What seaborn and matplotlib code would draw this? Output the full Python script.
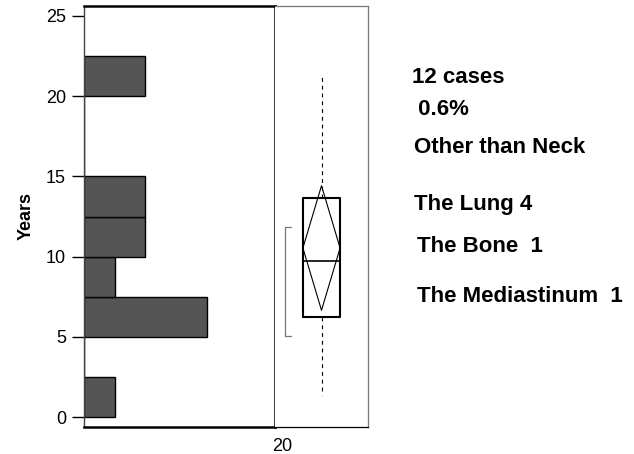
import numpy as np
import matplotlib.pyplot as plt
import seaborn as sns

# survival years of the 12 cases (estimated from the histogram / box plot)
years = [1.37, 5.05, 5.5, 6.5, 7.0, 9.4, 10.06, 11.86, 13.4, 14.5, 20.5, 21.3]
bin_edges = [0, 2.5, 5, 7.5, 10, 12.5, 15, 17.5, 20, 22.5]
y_ticks = [0, 5, 10, 15, 20, 25]
notes = ["12 cases", " 0.6%", "Other than Neck", "The Lung 4", "The Bone  1", "The Mediastinum  1"]

sns.set_style("white", {"text.color": "black", "axes.labelcolor": "black",
                        "xtick.color": "black", "ytick.color": "black"})
plt.rcParams["font.family"] = ["Liberation Sans", "DejaVu Sans"]

fig = plt.figure(figsize=(6.34, 4.54), dpi=100)
ax = fig.add_axes([84 / 634, 1 - 427 / 454, 191 / 634, 421 / 454])
ax2 = fig.add_axes([275 / 634, 1 - 427 / 454, 93 / 634, 421 / 454])

ylim = (-0.62, 25.62)

# histogram, horizontal
sns.histplot(y=years, bins=bin_edges, color="#555555", edgecolor="black",
             linewidth=1, alpha=1, ax=ax)
ax.set_ylim(*ylim)
ax.set_xlim(0, 6.22)
ax.set_yticks(y_ticks)
ax.set_xticks([])
ax.set_xlabel("")
ax.set_ylabel("Years", fontsize=13, fontweight="bold", labelpad=8, color="black")
ax.tick_params(axis="y", direction="out", length=8.5, width=1, pad=4.5,
               labelsize=13, left=True, colors="black")
for name, sp in ax.spines.items():
    sp.set_visible(True)
    sp.set_color("black")
    sp.set_linewidth(1.8)
ax.spines["left"].set_linewidth(1.0)
ax.spines["left"].set_color("#444444")

# box plot with min/max whiskers
sns.boxplot(y=years, ax=ax2, whis=(0, 100), width=0.8, showcaps=False,
            fill=False, color="black", linecolor="black", linewidth=1.5,
            whiskerprops={"linestyle": (0, (3.5, 3.5)), "linewidth": 0.8},
            medianprops={"linewidth": 1.2})
ax2.set_xlim(-1, 1)
ax2.set_ylim(*ylim)

# mean diamond (95% CI of the mean)
arr = np.array(years)
mean = arr.mean()
se = arr.std(ddof=1) / np.sqrt(len(arr))
ci_lo, ci_hi = mean - 2.201 * se, mean + 2.201 * se
ax2.plot([-0.4, 0, 0.4, 0, -0.4], [mean, ci_hi, mean, ci_lo, mean],
         color="black", lw=0.8)

# shortest half bracket (densest n//2 + 1 observations)
s = np.sort(arr)
k = len(s) // 2 + 1
i = int(np.argmin(s[k - 1:] - s[:len(s) - k + 1]))
sh_lo, sh_hi = s[i], s[i + k - 1]
ax2.plot([-0.66, -0.785, -0.785, -0.66], [sh_lo, sh_lo, sh_hi, sh_hi],
         color="#777777", lw=0.9)

ax2.set_yticks([])
ax2.set_ylabel("")
ax2.set_xticks([-0.85])
ax2.set_xticklabels(["20"])
ax2.tick_params(axis="x", length=0, pad=8, labelsize=13, colors="black")
for name, sp in ax2.spines.items():
    sp.set_visible(True)
    sp.set_color("#777777")
    sp.set_linewidth(0.9)
ax2.spines["bottom"].set_color("black")
ax2.spines["left"].set_visible(False)

# annotations on the right
note_pos = [(411.7, 83), (411.7, 115), (414, 153), (414, 210), (416.7, 252), (416.7, 302)]
for txt, (px, py) in zip(notes, note_pos):
    fig.text(px / 634, 1 - py / 454, txt, fontsize=16, fontweight="bold",
             color="black", ha="left", va="baseline")

fig.savefig("out.png", dpi=100)
